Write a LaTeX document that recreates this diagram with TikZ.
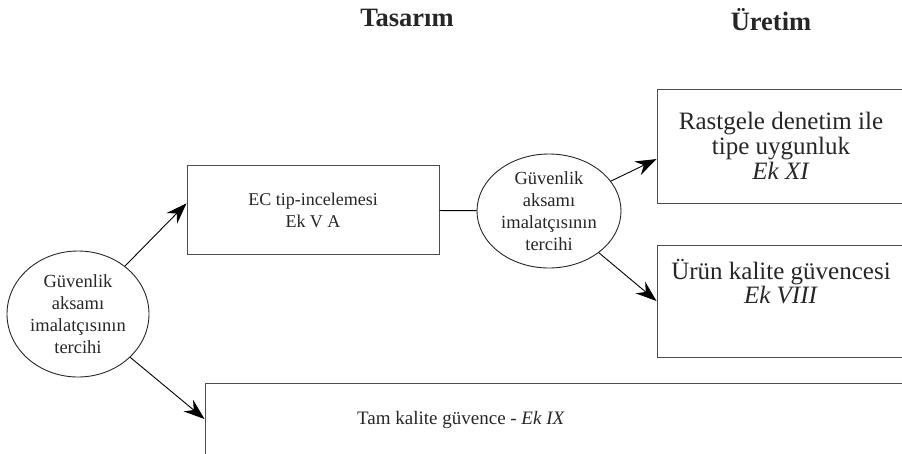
\documentclass[tikz,border=0pt]{standalone}
\usepackage{fontspec}
\setmainfont{Liberation Serif}
\usetikzlibrary{shapes.geometric,arrows.meta}

\begin{document}
\begin{tikzpicture}[x=1pt,y=-1pt]
\tikzstyle{box}=[rectangle, draw=black!70, line width=1pt, align=center,
  text=black!85, inner sep=0pt]
\tikzstyle{choice}=[ellipse, draw=black!85, line width=0.9pt, align=center,
  inner sep=0pt, text=black!85, font=\fontsize{18.5}{22}\selectfont]
\tikzstyle{arrow}=[line width=0.9pt, -{Stealth[length=21pt,width=15pt,inset=7pt]}]
\tikzstyle{head}=[text=black!85, font=\fontsize{26.5}{30}\selectfont\bfseries]
\useasboundingbox (0,0) rectangle (902,453);

% headings
\node[head] (tasarim) at (407,18) {Tasarım};
\node[head] (uretim) at (771,20) {Üretim};

% first choice
\node[choice, minimum width=142, minimum height=126] (secim1) at (78,314)
  {Güvenlik\\aksamı\\imalatçısının\\tercihi};

% EC type examination
\node[box, minimum width=252, minimum height=89,
  font=\fontsize{18}{22}\selectfont] (ec) at (313,210)
  {EC tip-incelemesi\\Ek V A};

% second choice
\node[choice, minimum width=144, minimum height=114] (secim2) at (549,211)
  {Güvenlik\\aksamı\\imalatçısının\\tercihi};

% production boxes
\node[box, minimum width=248, minimum height=114,
  font=\fontsize{25}{25}\selectfont] (rastgele) at (781,146)
  {Rastgele denetim ile\\tipe uygunluk\\\textit{Ek XI}};
\node[box, minimum width=248, minimum height=112, text depth=40pt,
  font=\fontsize{25}{22}\selectfont] (urun) at (781,301)
  {Ürün kalite güvencesi\\\textit{Ek VIII}};

% full quality assurance
\node[box, minimum width=700, minimum height=72] (tam) at (555,419) {};
\node[text=black!85, font=\fontsize{19}{22}\selectfont] (tamyazi) at (461,420)
  {Tam kalite güvence - \textit{Ek IX}};

% connections
\draw[arrow] (secim1) -- (ec.177);
\draw[arrow] (secim1) -- (tam.west);
\draw[line width=0.9pt] (ec) -- (secim2);
\draw[arrow] (secim2) -- (rastgele.186);
\draw[arrow] (secim2) -- (urun.west);
\end{tikzpicture}
\end{document}
